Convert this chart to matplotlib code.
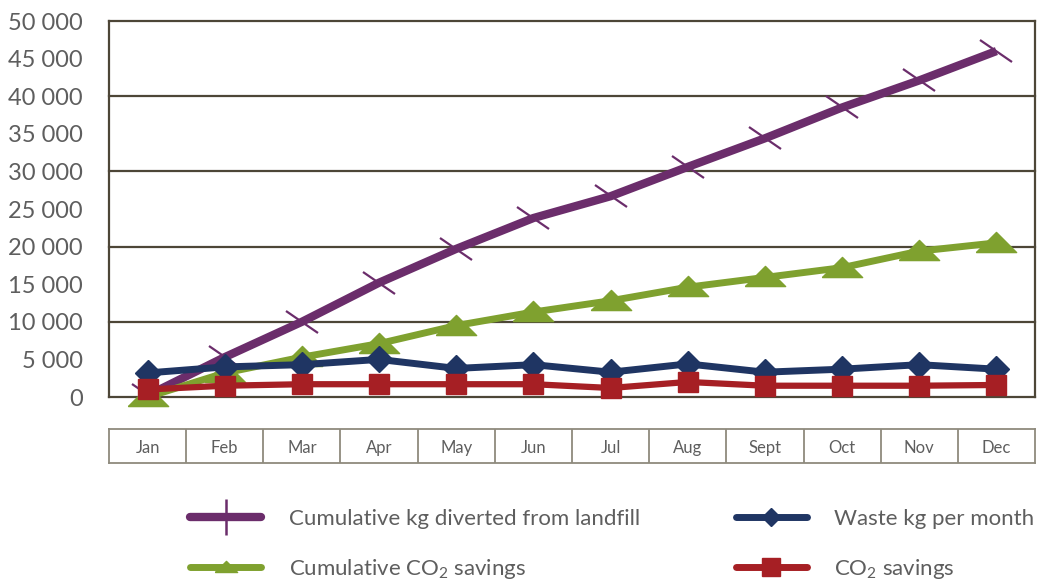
import matplotlib
matplotlib.use("Agg")
import matplotlib.pyplot as plt
from matplotlib.markers import MarkerStyle
from matplotlib.transforms import Affine2D
from matplotlib.lines import Line2D

months = ["Jan", "Feb", "Mar", "Apr", "May", "Jun", "Jul", "Aug", "Sept", "Oct", "Nov", "Dec"]
cum_kg = [200, 5300, 10000, 15200, 19700, 23800, 26700, 30600, 34400, 38500, 42100, 46000]
cum_co2 = [0, 3200, 5300, 7100, 9500, 11300, 12800, 14600, 15900, 17200, 19400, 20500]
waste_kg = [3200, 4000, 4300, 5000, 3800, 4300, 3300, 4400, 3300, 3700, 4300, 3700]
co2_sav = [1000, 1500, 1700, 1700, 1700, 1700, 1200, 2000, 1500, 1500, 1500, 1600]
yticks = [0, 5000, 10000, 15000, 20000, 25000, 30000, 35000, 40000, 45000, 50000]
ytick_labels = ["0", "5 000", "10 000", "15 000", "20 000", "25 000", "30 000",
                "35 000", "40 000", "45 000", "50 000"]
grid_levels = [10000, 20000, 30000, 40000]
labels = ["Cumulative kg diverted from landfill", "Cumulative CO$_\\mathregular{2}$ savings",
          "Waste kg per month", "CO$_\\mathregular{2}$ savings"]

PURPLE = "#6b2d6b"
GREEN = "#7fa12f"
BLUE = "#1f3563"
RED = "#a61f24"
FRAME = "#4d4637"
TEXT = "#5e5e5e"
CELL = "#8f8a7d"

plt.rcParams['font.family'] = ['Lato', 'DejaVu Sans']

fig = plt.figure(figsize=(10.44, 5.83), dpi=100)
W, H = 1044, 583
ax = fig.add_axes([109 / W, 1 - 397 / H, (1035 - 109) / W, (397 - 21) / H])

x = list(range(len(months)))

cross = MarkerStyle('|', transform=Affine2D().rotate_deg(55))
tri = [(-1, -0.45), (1, -0.45), (0, 0.55), (-1, -0.45)]

ax.plot(x, cum_kg, color=PURPLE, lw=6, solid_capstyle='butt', zorder=3)
ax.plot(x, cum_kg, ls='none', marker=cross, ms=28, mew=1.6, mec=PURPLE, zorder=3)
ax.plot(x, cum_co2, color=GREEN, lw=5, marker=tri, ms=29, mfc=GREEN, mec=GREEN, zorder=4)
ax.plot(x, waste_kg, color=BLUE, lw=5, marker='D', ms=13, mfc=BLUE, mec=BLUE, zorder=5)
ax.plot(x, co2_sav, color=RED, lw=4.5, marker='s', ms=15, mfc=RED, mec=RED, zorder=6)

ax.set_xlim(-0.5, 11.5)
ax.set_ylim(0, 50000)
ax.set_xticks([])
ax.set_yticks(yticks)
ax.set_yticklabels(ytick_labels)
ax.tick_params(axis='y', length=0, pad=19, labelsize=17, labelcolor=TEXT)
for g in grid_levels:
    ax.axhline(g, color=FRAME, lw=1.6, zorder=1)
for s in ax.spines.values():
    s.set_color(FRAME)
    s.set_linewidth(1.6)
for ln in ax.lines:
    ln.set_clip_on(False)

# month table
tax = fig.add_axes([109 / W, 1 - 463 / H, (1035 - 109) / W, (463 - 429) / H])
tax.set_xlim(-0.5, 11.5)
tax.set_ylim(0, 1)
tax.set_xticks([])
tax.set_yticks([])
for s in tax.spines.values():
    s.set_color(CELL)
    s.set_linewidth(1.3)
for i in range(1, len(months)):
    tax.axvline(i - 0.5, color=CELL, lw=1.3)
for i, m in enumerate(months):
    tax.text(i, 0.45, m, ha='center', va='center', fontsize=12, color=TEXT)

handles = [
    Line2D([], [], color=PURPLE, lw=6, solid_capstyle='round', marker='|', ms=26, mew=1.8, mec=PURPLE),
    Line2D([], [], color=GREEN, lw=5, solid_capstyle='round', marker=tri, ms=16, mfc=GREEN, mec=GREEN),
    Line2D([], [], color=BLUE, lw=5, solid_capstyle='round', marker='D', ms=9, mfc=BLUE, mec=BLUE),
    Line2D([], [], color=RED, lw=5, solid_capstyle='round', marker='s', ms=13, mfc=RED, mec=RED),
]
leg = fig.legend(handles, labels, ncol=2, loc='upper left', bbox_to_anchor=(190 / W, 1 - 509 / H),
                 frameon=False, fontsize=16, handlelength=3.2, handletextpad=1.25,
                 columnspacing=4.3, labelspacing=1.25, borderpad=0, borderaxespad=0)
for t in leg.get_texts():
    t.set_color(TEXT)

fig.savefig("out.png", dpi=100)
